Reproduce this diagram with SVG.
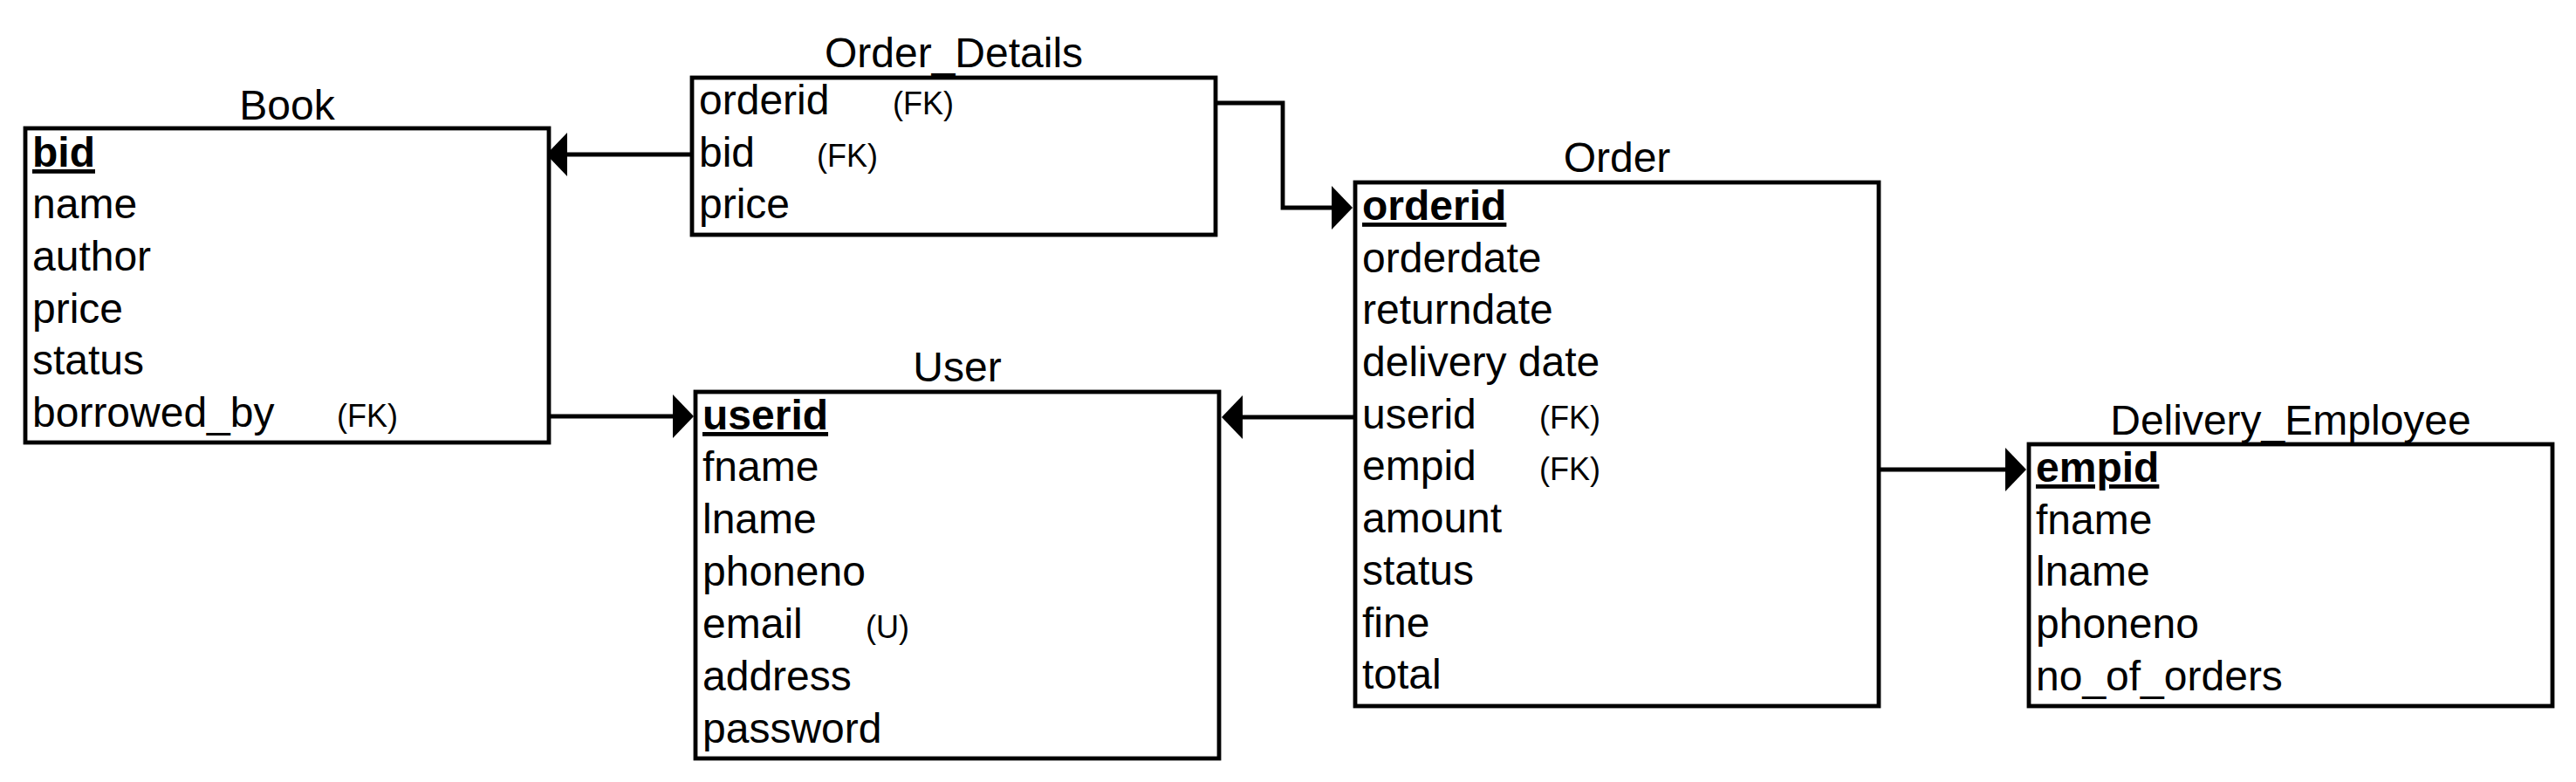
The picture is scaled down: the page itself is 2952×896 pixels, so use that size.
<svg xmlns="http://www.w3.org/2000/svg" width="2952" height="896" viewBox="0 0 2952 896">
<style>
.box{fill:#fff;stroke:#000;stroke-width:4.8}
.t{font-family:"Liberation Sans",Arial,sans-serif;font-size:48px;fill:#000}
.title{text-anchor:middle}
.pk{font-weight:bold;text-decoration:underline}
.s{font-family:"Liberation Sans",Arial,sans-serif;font-size:36px;fill:#000}
.edge{fill:none;stroke:#000;stroke-width:4.8}
</style>
<defs>
<marker id="arr" markerUnits="userSpaceOnUse" viewBox="0 0 24 50" markerWidth="24" markerHeight="50" refX="0" refY="25" orient="auto">
<path d="M0,0 L24,25 L0,50 Z" fill="#000"/>
</marker>
</defs>
<rect width="2952" height="896" fill="#fff"/>

<g id="connectors">
<path class="edge" d="M793,177 H650" marker-end="url(#arr)"/>
<path class="edge" d="M1393,118 H1470 V238 H1526" marker-end="url(#arr)"/>
<path class="edge" d="M629,477 H771" marker-end="url(#arr)"/>
<path class="edge" d="M1553,478 H1424" marker-end="url(#arr)"/>
<path class="edge" d="M2153,538 H2298" marker-end="url(#arr)"/>
</g>

<g id="book">
<text class="t title" x="329" y="137">Book</text>
<rect class="box" x="29" y="147" width="600" height="360"/>
<text class="t pk" x="37" y="191">bid</text>
<text class="t" x="37" y="250">name</text>
<text class="t" x="37" y="310">author</text>
<text class="t" x="37" y="370">price</text>
<text class="t" x="37" y="429">status</text>
<text class="t" x="37" y="489">borrowed_by</text>
<text class="s" x="386" y="489">(FK)</text>
</g>

<g id="order_details">
<text class="t title" x="1093" y="77">Order_Details</text>
<rect class="box" x="793" y="89" width="600" height="180"/>
<text class="t" x="801" y="131">orderid</text>
<text class="s" x="1023" y="131">(FK)</text>
<text class="t" x="801" y="191">bid</text>
<text class="s" x="936" y="191">(FK)</text>
<text class="t" x="801" y="250">price</text>
</g>

<g id="order">
<text class="t title" x="1853" y="197">Order</text>
<rect class="box" x="1553" y="209" width="600" height="600"/>
<text class="t pk" x="1561" y="252">orderid</text>
<text class="t" x="1561" y="312">orderdate</text>
<text class="t" x="1561" y="371">returndate</text>
<text class="t" x="1561" y="431">delivery date</text>
<text class="t" x="1561" y="491">userid</text>
<text class="s" x="1764" y="491">(FK)</text>
<text class="t" x="1561" y="550">empid</text>
<text class="s" x="1764" y="550">(FK)</text>
<text class="t" x="1561" y="610">amount</text>
<text class="t" x="1561" y="670">status</text>
<text class="t" x="1561" y="730">fine</text>
<text class="t" x="1561" y="789">total</text>
</g>

<g id="user">
<text class="t title" x="1097" y="437">User</text>
<rect class="box" x="797" y="449" width="600" height="420"/>
<text class="t pk" x="805" y="492">userid</text>
<text class="t" x="805" y="551">fname</text>
<text class="t" x="805" y="611">lname</text>
<text class="t" x="805" y="671">phoneno</text>
<text class="t" x="805" y="731">email</text>
<text class="s" x="992" y="731">(U)</text>
<text class="t" x="805" y="791">address</text>
<text class="t" x="805" y="851">password</text>
</g>

<g id="delivery_employee">
<text class="t title" x="2625" y="498">Delivery_Employee</text>
<rect class="box" x="2325" y="509" width="600" height="300"/>
<text class="t pk" x="2333" y="552">empid</text>
<text class="t" x="2333" y="612">fname</text>
<text class="t" x="2333" y="671">lname</text>
<text class="t" x="2333" y="731">phoneno</text>
<text class="t" x="2333" y="791">no_of_orders</text>
</g>
</svg>
